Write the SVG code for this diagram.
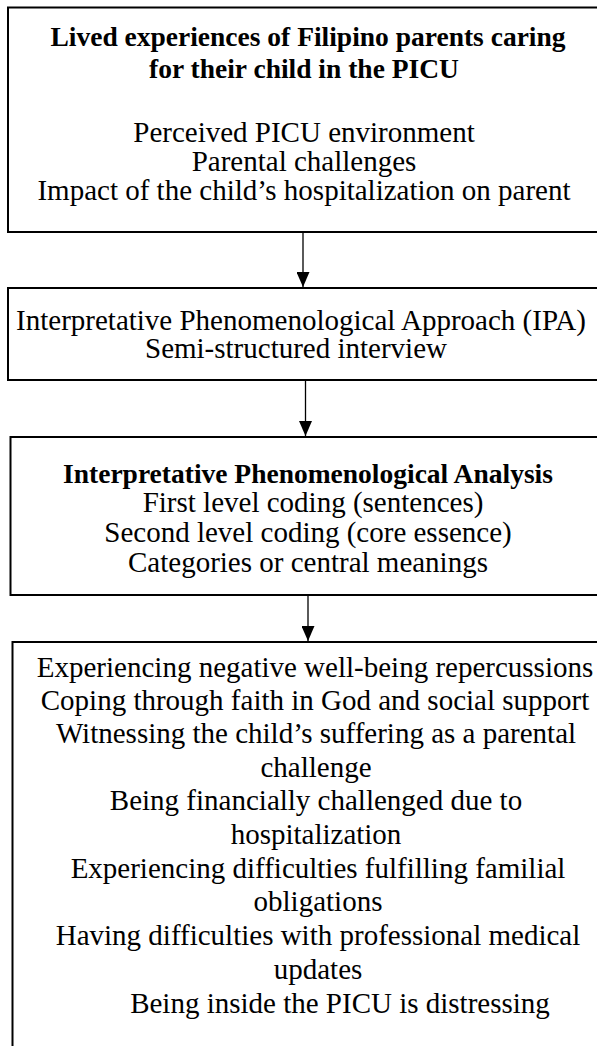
<svg xmlns="http://www.w3.org/2000/svg" width="597" height="1046" viewBox="0 0 597 1046">
<style>
.box{fill:#fff;stroke:#000;stroke-width:2}
.t{font-family:"Liberation Serif","Times New Roman",serif;font-size:29px;fill:#000;text-anchor:middle}
.b{font-family:"Liberation Serif","Times New Roman",serif;font-size:27.5px;font-weight:bold;fill:#000;text-anchor:middle}
.c{stroke:#000;stroke-width:1.3;fill:none}
</style>
<defs>
<marker id="ah" markerWidth="15" markerHeight="13" refX="15" refY="6.5" orient="auto" markerUnits="userSpaceOnUse" viewBox="0 0 15 13">
<path d="M0,0 L15,6.5 L0,13 Z" fill="#000"/>
</marker>
</defs>
<rect width="597" height="1046" fill="#fff"/>
<g id="node1">
<rect class="box" x="8" y="7.5" width="600" height="224.5"/>
<text class="b" x="308" y="46">Lived experiences of Filipino parents caring</text>
<text class="b" x="304" y="78">for their child in the PICU</text>
<text class="t" x="304" y="142">Perceived PICU environment</text>
<text class="t" x="304" y="171">Parental challenges</text>
<text class="t" x="304" y="200">Impact of the child’s hospitalization on parent</text>
</g>
<g id="node2">
<rect class="box" x="8" y="288" width="600" height="92"/>
<text class="t" x="301" y="330">Interpretative Phenomenological Approach (IPA)</text>
<text class="t" x="296" y="358">Semi-structured interview</text>
</g>
<g id="node3">
<rect class="box" x="10.5" y="437" width="600" height="158"/>
<text class="b" x="308" y="483">Interpretative Phenomenological Analysis</text>
<text class="t" x="313" y="512">First level coding (sentences)</text>
<text class="t" x="308" y="542">Second level coding (core essence)</text>
<text class="t" x="308" y="572">Categories or central meanings</text>
</g>
<g id="node4">
<rect class="box" x="12.5" y="642" width="610" height="420"/>
<text class="t" x="315" y="677">Experiencing negative well-being repercussions</text>
<text class="t" x="315" y="710">Coping through faith in God and social support</text>
<text class="t" x="316" y="743">Witnessing the child’s suffering as a parental</text>
<text class="t" x="316" y="777">challenge</text>
<text class="t" x="316" y="810">Being financially challenged due to</text>
<text class="t" x="316" y="844">hospitalization</text>
<text class="t" x="318" y="878">Experiencing difficulties fulfilling familial</text>
<text class="t" x="318" y="911">obligations</text>
<text class="t" x="318" y="945">Having difficulties with professional medical</text>
<text class="t" x="318" y="979">updates</text>
<text class="t" x="340" y="1013">Being inside the PICU is distressing</text>
</g>
<g id="connectors">
<line class="c" x1="303" y1="233" x2="303" y2="287" marker-end="url(#ah)"/>
<line class="c" x1="305.5" y1="381" x2="305.5" y2="436" marker-end="url(#ah)"/>
<line class="c" x1="308" y1="596" x2="308" y2="641" marker-end="url(#ah)"/>
</g>
</svg>
